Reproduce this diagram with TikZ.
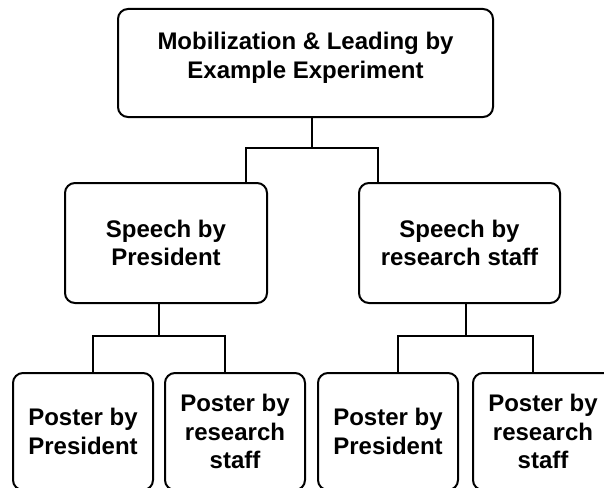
\documentclass[tikz,border=0pt]{standalone}
\usepackage{fontspec}
\setmainfont{Liberation Sans}
\usetikzlibrary{positioning}

\begin{document}
\begin{tikzpicture}[x=1pt,y=-1pt,
    box/.style={draw,line width=2pt,rounded corners=10pt,fill=white,align=center,
        font=\bfseries\fontsize{24}{28.8}\selectfont},
    link/.style={line width=2pt}]
\useasboundingbox (0,0) rectangle (604,487);
\clip (0,0) rectangle (604,487);

\node[box,minimum width=375pt,minimum height=108pt,text depth=16pt] (top) at (305.5,63)
    {Mobilization \& Leading by\\Example Experiment};

\node[box,minimum width=202pt,minimum height=120pt] (spP) at (166,243) {Speech by\\President};
\node[box,minimum width=201pt,minimum height=120pt] (spR) at (459.5,243) {Speech by\\research staff};

\node[box,minimum width=140pt,minimum height=117pt] (poPP) at (83,431.5) {Poster by\\President};
\node[box,minimum width=140pt,minimum height=117pt] (poPR) at (235,431.5) {Poster by\\research\\staff};
\node[box,minimum width=140pt,minimum height=117pt] (poRP) at (388,431.5) {Poster by\\President};
\node[box,minimum width=140pt,minimum height=117pt] (poRR) at (543,431.5) {Poster by\\research\\staff};

\coordinate (j0) at (312,148);
\coordinate (tl) at (246,148);
\coordinate (tr) at (378,148);
\draw[link] (top.south -| j0) -- (j0);
\draw[link] (spP.north -| tl) -- (tl) -- (tr) -- (spR.north -| tr);

\coordinate (jP) at (159,336);
\coordinate (jPl) at (93,336);
\coordinate (jPr) at (225,336);
\draw[link] (spP.south -| jP) -- (jP);
\draw[link] (poPP.north -| jPl) -- (jPl) -- (jPr) -- (poPR.north -| jPr);

\coordinate (jR) at (466,336);
\coordinate (jRl) at (398,336);
\coordinate (jRr) at (533,336);
\draw[link] (spR.south -| jR) -- (jR);
\draw[link] (poRP.north -| jRl) -- (jRl) -- (jRr) -- (poRR.north -| jRr);
\end{tikzpicture}
\end{document}
